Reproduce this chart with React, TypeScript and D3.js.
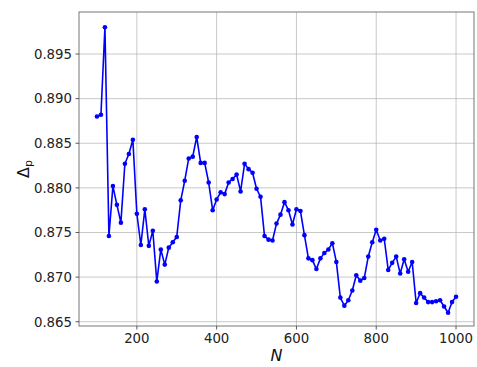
import React from "react";
import * as d3 from "d3";

const nValues: number[] = d3.range(100, 1001, 10);
const deltaValues: number[] = [
  0.8880, 0.8882, 0.8980, 0.8746, 0.8802, 0.8781, 0.8761, 0.8827, 0.8838, 0.8854,
  0.8771, 0.8736, 0.8776, 0.8735, 0.8752, 0.8695, 0.8731, 0.8714, 0.8733, 0.8739,
  0.8745, 0.8786, 0.8808, 0.8833, 0.8835, 0.8857, 0.8828, 0.8828, 0.8806, 0.8775,
  0.8787, 0.8795, 0.8793, 0.8806, 0.8810, 0.8815, 0.8796, 0.8827, 0.8821, 0.8817,
  0.8799, 0.8790, 0.8746, 0.8742, 0.8741, 0.8760, 0.8770, 0.8784, 0.8775, 0.8759,
  0.8776, 0.8774, 0.8747, 0.8721, 0.8719, 0.8709, 0.8721, 0.8727, 0.8731, 0.8738,
  0.8717, 0.8677, 0.8668, 0.8674, 0.8685, 0.8702, 0.8696, 0.8699, 0.8723, 0.8739,
  0.8753, 0.8741, 0.8743, 0.8708, 0.8716, 0.8723, 0.8704, 0.8720, 0.8706, 0.8717,
  0.8671, 0.8682, 0.8677, 0.8672, 0.8672, 0.8673, 0.8674, 0.8667, 0.8660, 0.8672,
  0.8678,
];
const xTicks: number[] = [200, 400, 600, 800, 1000];
const yTicks: number[] = [0.865, 0.87, 0.875, 0.88, 0.885, 0.89, 0.895];

const W = 477;
const H = 367;
const L = 79;
const R = 474;
const T = 12;
const B = 326;
const FONT = "DejaVu Sans, sans-serif";

export default function App() {
  const x = d3.scaleLinear().domain([55, 1045]).range([L, R]);
  const y = d3.scaleLinear().domain([0.86452, 0.89971]).range([B, T]);
  const pts = nValues.map((n, i) => [n, deltaValues[i]] as [number, number]);
  const line = d3
    .line<[number, number]>()
    .x((d) => x(d[0]))
    .y((d) => y(d[1]));

  return (
    <svg
      width={W}
      height={H}
      style={{ position: "absolute", left: 0, top: 0, background: "#fff" }}
      fontFamily={FONT}
    >
      <rect x={0} y={0} width={W} height={H} fill="#fff" />
      {/* grid */}
      {xTicks.map((t) => (
        <line key={"gx" + t} x1={x(t)} x2={x(t)} y1={T} y2={B} stroke="#b0b0b0" strokeOpacity={0.7} strokeWidth={1} />
      ))}
      {yTicks.map((t) => (
        <line key={"gy" + t} x1={L} x2={R} y1={y(t)} y2={y(t)} stroke="#b0b0b0" strokeOpacity={0.7} strokeWidth={1} />
      ))}
      {/* data */}
      <path d={line(pts) || ""} fill="none" stroke="#0000ff" strokeWidth={1.6} strokeLinejoin="round" />
      {pts.map((d, i) => (
        <circle key={"p" + i} cx={x(d[0])} cy={y(d[1])} r={2.3} fill="#0000ff" />
      ))}
      {/* frame */}
      <rect x={L} y={T} width={R - L} height={B - T} fill="none" stroke="#777" strokeWidth={1} />
      {/* x ticks */}
      {xTicks.map((t) => (
        <g key={"xt" + t}>
          <line x1={x(t)} x2={x(t)} y1={B} y2={B + 3.5} stroke="#333" strokeWidth={0.8} />
          <text x={x(t)} y={B + 17} textAnchor="middle" fontSize={13.3} fill="#222">
            {t}
          </text>
        </g>
      ))}
      {/* y ticks */}
      {yTicks.map((t) => (
        <g key={"yt" + t}>
          <line x1={L - 3.5} x2={L} y1={y(t)} y2={y(t)} stroke="#333" strokeWidth={0.8} />
          <text x={L - 7} y={y(t)} dy="0.36em" textAnchor="end" fontSize={13.3} fill="#222">
            {d3.format(".3f")(t)}
          </text>
        </g>
      ))}
      {/* axis labels */}
      <text x={(L + R) / 2} y={361} textAnchor="middle" fontSize={16} fontStyle="italic" fill="#111">
        N
      </text>
      <text transform={`translate(29,${(T + B) / 2}) rotate(-90)`} textAnchor="middle" fontSize={16} fill="#111">
        <tspan>Δ</tspan>
        <tspan fontSize={11} dy={3}>p</tspan>
      </text>
    </svg>
  );
}
